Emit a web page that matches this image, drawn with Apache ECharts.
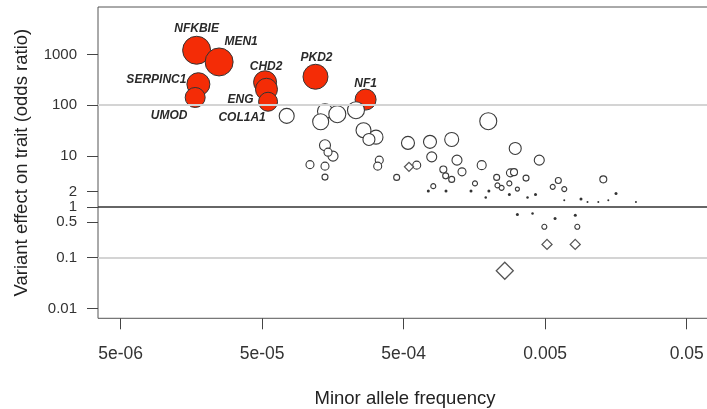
<!DOCTYPE html>
<html>
<head>
<meta charset="utf-8">
<script src="https://cdn.jsdelivr.net/npm/echarts@6/dist/echarts.min.js"></script>
<style>
html,body{margin:0;padding:0;background:#fff;}
#chart{width:707px;height:409px;}
</style>
</head>
<body>
<div id="chart"></div>
<script>
// ---- data ----
const geneNames = ['NFKBIE','MEN1','SERPINC1','UMOD','CHD2','ENG','COL1A1','PKD2','NF1'];
const geneMAF = [1.72e-5, 2.48e-5, 1.77e-5, 1.68e-5, 5.24e-5, 5.36e-5, 5.50e-5, 1.19e-4, 2.69e-4];
const geneOR  = [1207, 710, 259, 142, 283, 206, 117, 363, 129];

const otherMAF = [7.45e-5, 1.389e-4, 1.697e-4, 1.295e-4, 2.30e-4, 2.60e-4, 3.185e-4, 2.84e-4, 1.389e-4, 1.583e-4,
  1.459e-4, 1.088e-4, 1.389e-4, 1.389e-4, 3.36e-4, 3.275e-4, 4.46e-4, 5.36e-4, 7.67e-4, 1.092e-3,
  7.89e-4, 1.19e-3, 6.18e-4, 9.53e-4, 9.90e-4, 1.092e-3, 1.291e-3, 1.98e-3, 1.779e-3, 3.07e-3,
  4.54e-3, 2.84e-3, 3.01e-3, 3.66e-3, 2.27e-3, 1.595e-3, 8.09e-4, 2.30e-3, 2.46e-3, 2.79e-3,
  3.18e-3, 5.65e-3, 6.19e-3, 6.82e-3, 1.287e-2, 4.93e-3, 8.43e-3];
const otherOR = [61.6, 76.2, 66.5, 47.4, 79.7, 32.2, 23.5, 21.2, 16.3, 9.93,
  11.9, 6.76, 6.32, 3.84, 8.29, 6.32, 3.79, 18.1, 19.0, 21.2,
  9.62, 8.29, 6.61, 5.44, 4.07, 3.46, 4.88, 48.4, 6.61, 14.1,
  8.29, 4.66, 4.81, 3.67, 3.79, 2.89, 2.55, 2.64, 2.36, 2.89,
  2.23, 2.47, 3.30, 2.23, 3.47, 0.404, 0.404];

const dotMAF = [7.46e-4, 9.95e-4, 1.495e-3, 2.00e-3, 1.90e-3, 2.79e-3, 3.75e-3, 4.27e-3, 1.583e-2, 8.95e-3,
  6.82e-3, 9.95e-3, 1.187e-2, 1.396e-2, 2.19e-2, 3.18e-3, 4.07e-3, 5.87e-3, 8.16e-3];
const dotOR = [2.04, 2.04, 2.04, 2.04, 1.53, 1.74, 1.53, 1.75, 1.83, 1.43,
  1.34, 1.24, 1.24, 1.34, 1.24, 0.702, 0.742, 0.591, 0.681];

const diamondMAF = [5.45e-4, 5.15e-3, 8.15e-3, 2.59e-3];
const diamondOR  = [6.12, 0.182, 0.182, 0.0551];

const xTickValues = [5e-6, 5e-5, 5e-4, 5e-3, 5e-2];
const xTickLabels = ['5e-06', '5e-05', '5e-04', '0.005', '0.05'];
const yTickValues = [0.01, 0.1, 0.5, 1, 2, 10, 100, 1000];
const yTickLabels = ['0.01', '0.1', '0.5', '1', '2', '10', '100', '1000'];
const refLinesGray = [100, 0.1];
const refLineBlack = [1];

// ---- styling (sizes / label offsets) ----
const geneSize = [28, 28, 23, 20, 23, 22, 19, 25, 21];
const geneLabelOffset = [[0,-22],[22,-20],[-42,-5],[-26,18],[1,-16],[-26,10],[-26,16],[1,-19],[0,-16]];
const otherSize = [15, 15, 17, 16, 17, 15, 14, 12, 11, 10,
  8, 8, 8, 6, 8, 8, 6, 13, 13, 14,
  10, 10, 8, 7, 6, 6, 8, 17, 9, 12,
  10, 8, 7, 6, 6, 5, 5, 5, 5, 5,
  4, 5, 6, 5, 7, 5, 5];
const dotSize = [3,3,3,3,2.5,3,2.5,3,3,3, 2,2,2,2,2, 3,2.5,3,3];
const diamondSize = [9, 10, 10, 17];

const L = Math.log10;
function lookup(vals, labels, v) {
  for (let i = 0; i < vals.length; i++) if (Math.abs(L(vals[i]) - v) < 1e-6) return labels[i];
  return '';
}

const chart = echarts.init(document.getElementById('chart'), null, {renderer: 'canvas'});
const font = 'Liberation Sans, Arial, sans-serif';

const option = {
  animation: false,
  grid: {left: 98, top: 7, width: 614, height: 311.3, outerBoundsMode: 'none', containLabel: false,
    show: true, borderColor: '#555', borderWidth: 1, backgroundColor: 'transparent'},
  xAxis: {
    type: 'value', min: -5.46145, max: -1.12223,
    name: 'Minor allele frequency', nameLocation: 'middle', nameGap: 71,
    nameTextStyle: {fontFamily: font, fontSize: 18.5, color: '#222'},
    axisLine: {show: false, onZero: false}, splitLine: {show: false},
    axisTick: {show: true, length: 11, lineStyle: {color: '#444', width: 1}, customValues: xTickValues.map(L)},
    axisLabel: {customValues: xTickValues.map(L), margin: 27, fontFamily: font, fontSize: 17.5, color: '#333',
      formatter: v => lookup(xTickValues, xTickLabels, v)}
  },
  yAxis: {
    type: 'value', min: -2.19469, max: 3.93314,
    name: 'Variant effect on trait (odds ratio)', nameLocation: 'middle', nameGap: 67,
    nameTextStyle: {fontFamily: font, fontSize: 18.5, color: '#222'},
    axisLine: {show: false, onZero: false}, splitLine: {show: false},
    axisTick: {show: true, length: 11, lineStyle: {color: '#444', width: 1}, customValues: yTickValues.map(L)},
    axisLabel: {customValues: yTickValues.map(L), margin: 21, fontFamily: font, fontSize: 15, color: '#333',
      formatter: v => lookup(yTickValues, yTickLabels, v)}
  },
  series: [
    {
      type: 'scatter', data: [], z: 1, silent: true,
      markLine: {
        silent: true, symbol: 'none', label: {show: false}, animation: false,
        data: refLinesGray.map(v => ({yAxis: L(v), lineStyle: {color: '#d4d4d4', width: 2, type: 'solid'}}))
          .concat(refLineBlack.map(v => ({yAxis: L(v), lineStyle: {color: '#333', width: 1.6, type: 'solid'}})))
      }
    },
    {
      type: 'scatter', z: 2, silent: true,
      symbol: 'circle',
      itemStyle: {color: '#f42c06', borderColor: '#333', borderWidth: 1, opacity: 1},
      data: geneNames.map((n, i) => ({
        name: n, value: [L(geneMAF[i]), L(geneOR[i])], symbolSize: geneSize[i],
        label: {show: true, position: 'inside', offset: geneLabelOffset[i], formatter: n,
          fontFamily: font, fontStyle: 'italic', fontWeight: 'bold', fontSize: 12, color: '#2a2a2a'}
      }))
    },
    {
      type: 'scatter', z: 3, silent: true, symbol: 'circle',
      itemStyle: {color: '#fff', borderColor: '#3a3a3a', borderWidth: 1.1, opacity: 1},
      data: otherMAF.map((m, i) => ({value: [L(m), L(otherOR[i])], symbolSize: otherSize[i]}))
    },
    {
      type: 'scatter', z: 3, silent: true, symbol: 'circle',
      itemStyle: {color: '#333', borderWidth: 0, opacity: 1},
      data: dotMAF.map((m, i) => ({value: [L(m), L(dotOR[i])], symbolSize: dotSize[i]}))
    },
    {
      type: 'scatter', z: 3, silent: true, symbol: 'diamond',
      itemStyle: {color: '#fff', borderColor: '#555', borderWidth: 1.3, opacity: 1},
      data: diamondMAF.map((m, i) => ({value: [L(m), L(diamondOR[i])], symbolSize: diamondSize[i]}))
    }
  ]
};
chart.setOption(option);
</script>
</body>
</html>
